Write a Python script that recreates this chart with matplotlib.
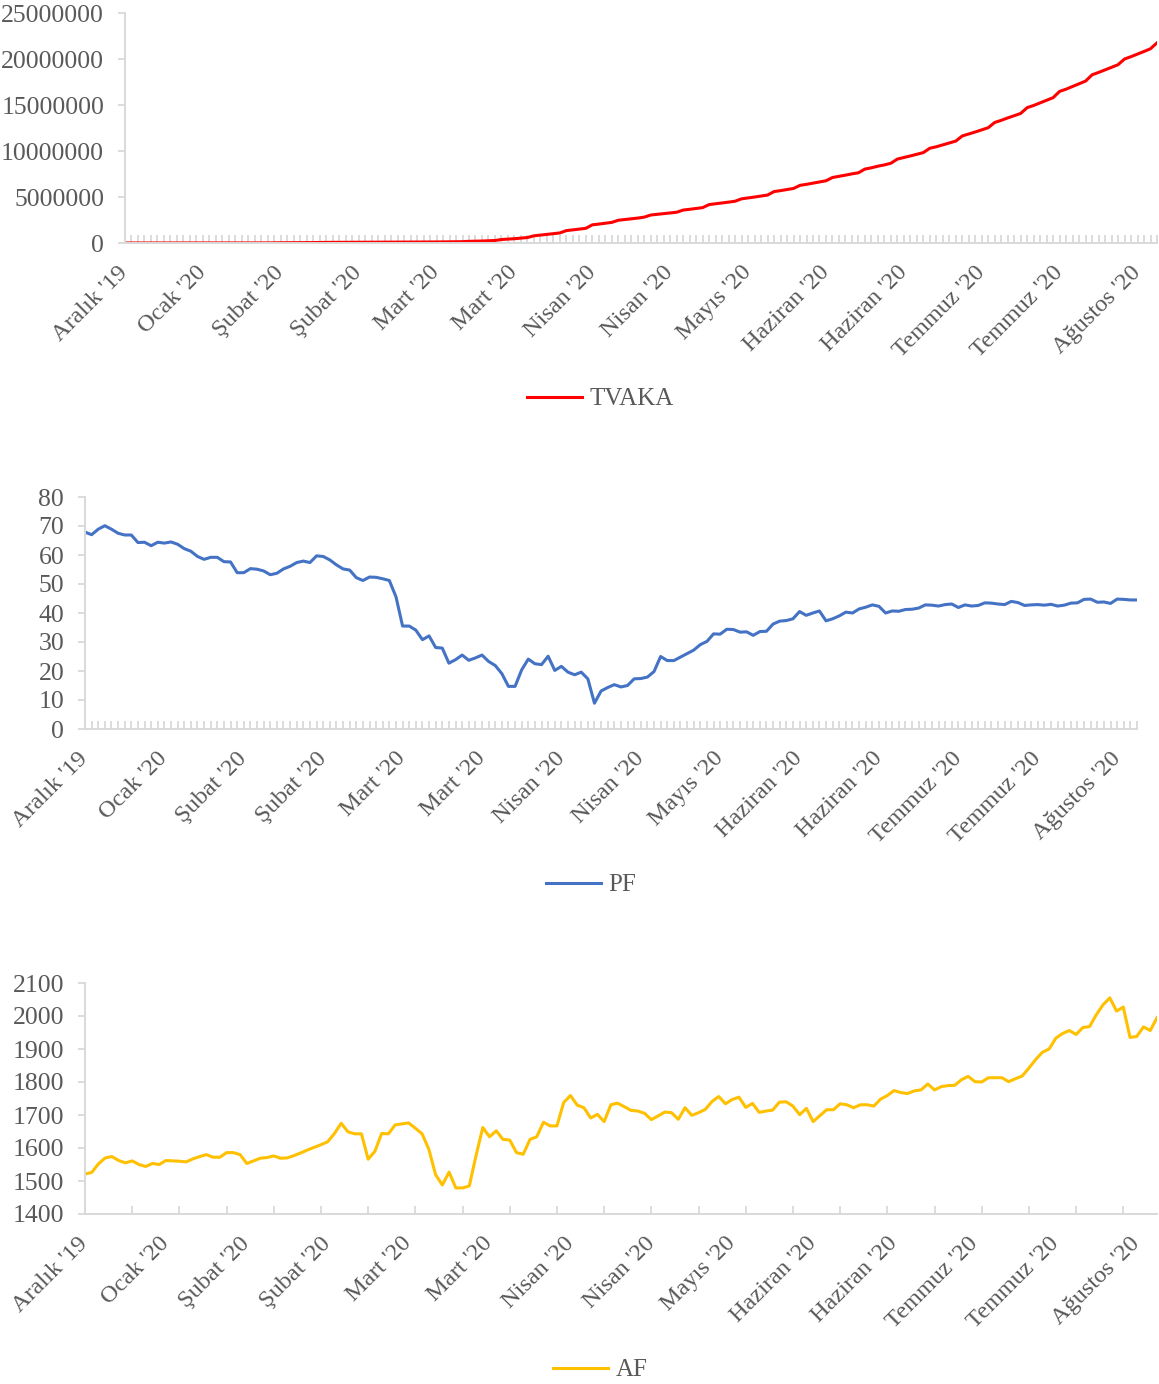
import numpy as np
import matplotlib.pyplot as plt
from matplotlib.lines import Line2D
from matplotlib.ticker import MultipleLocator, FuncFormatter

plt.rcParams['font.family'] = ['Liberation Serif', 'DejaVu Serif']

# Daily series (trading days, 31.12.2019 - 17.08.2020)
tvaka = [
    27, 44, 44, 59, 59, 59, 59, 41, 41, 41,
    41, 45, 62, 282, 314, 581, 846, 1320, 2927, 5578,
    6166, 8234, 9927, 20630, 24554, 28276, 31481, 34886, 43103, 45171,
    60381, 66886, 69032, 73332, 75204, 75748, 76769, 77794, 79331, 80239,
    81109, 82294, 83652, 89053, 90870, 93091, 95324, 98192, 113590, 118620,
    125875, 128343, 145193, 181546, 197168, 214915, 242713, 272167, 378287, 418041,
    467653, 529591, 593291, 782365, 857487, 932605, 1013157, 1095917, 1345101, 1426096,
    1511104, 1595350, 1976191, 2056054, 2152437, 2240190, 2472259, 2549294, 2623960, 2708885,
    2811193, 3041764, 3116398, 3193886, 3256853, 3343777, 3582469, 3662691, 3755341, 3845718,
    4177504, 4261747, 4347018, 4442163, 4542347, 4801943, 4897492, 4996472, 5102424, 5210817,
    5589626, 5691790, 5808946, 5930277, 6265852, 6378238, 6508635, 6632985, 6762855, 7118879,
    7242235, 7376264, 7514481, 7632802, 8034504, 8173940, 8349950, 8488977, 8668210, 9122357,
    9289773, 9465006, 9643749, 9825856, 10302867, 10460452, 10667386, 10875091, 11078585, 11635939,
    11850528, 12068280, 12294117, 12532129, 13104391, 13332100, 13596398, 13834420, 14088926, 14713623,
    14951259, 15229291, 15514012, 15797389, 16480485, 16724838, 17015474, 17304100, 17599410, 18282208,
    18540119, 18812606, 19095354, 19381340, 20001970, 20254440, 20536893, 20819829, 21115541, 21756357,
]

pf = [
    67.9, 67.0, 68.9, 70.1, 68.9, 67.5, 66.9, 66.9, 64.3, 64.4,
    63.2, 64.4, 64.1, 64.5, 63.7, 62.2, 61.3, 59.5, 58.5, 59.2,
    59.2, 57.7, 57.6, 53.9, 53.9, 55.3, 55.1, 54.5, 53.2, 53.7,
    55.2, 56.1, 57.4, 57.9, 57.4, 59.7, 59.5, 58.3, 56.6, 55.2,
    54.8, 52.2, 51.2, 52.4, 52.3, 51.8, 51.2, 45.6, 35.5, 35.5,
    34.1, 30.8, 32.1, 28.1, 27.9, 22.7, 23.9, 25.5, 23.7, 24.5,
    25.5, 23.3, 21.9, 19.1, 14.7, 14.7, 20.4, 24.1, 22.5, 22.2,
    25.1, 20.2, 21.6, 19.6, 18.7, 19.6, 17.3, 8.9, 13.1, 14.3,
    15.3, 14.5, 15.0, 17.3, 17.4, 17.9, 19.8, 25.0, 23.6, 23.6,
    24.8, 26.0, 27.2, 29.1, 30.2, 32.8, 32.7, 34.4, 34.3, 33.4,
    33.5, 32.3, 33.6, 33.7, 36.2, 37.2, 37.4, 38.0, 40.5, 39.2,
    40.0, 40.7, 37.3, 38.0, 39.0, 40.3, 40.0, 41.4, 42.0, 42.8,
    42.3, 40.0, 40.7, 40.6, 41.2, 41.3, 41.7, 42.8, 42.7, 42.4,
    42.9, 43.1, 41.9, 42.8, 42.4, 42.6, 43.5, 43.4, 43.1, 42.9,
    44.0, 43.6, 42.6, 42.8, 42.9, 42.7, 43.0, 42.4, 42.7, 43.4,
    43.5, 44.7, 44.8, 43.7, 43.8, 43.3, 44.8, 44.7, 44.5, 44.5,
]

af = [
    1521, 1526, 1552, 1570, 1574, 1562, 1555, 1561, 1550, 1544,
    1553, 1550, 1562, 1561, 1560, 1558, 1567, 1574, 1580, 1572,
    1572, 1586, 1586, 1580, 1553, 1561, 1569, 1571, 1576, 1569,
    1570, 1577, 1585, 1594, 1602, 1610, 1619, 1644, 1675, 1649,
    1643, 1643, 1566, 1590, 1644, 1643, 1670, 1673, 1676, 1660,
    1643, 1596, 1519, 1488, 1527, 1479, 1479, 1485, 1577, 1662,
    1634, 1652, 1626, 1624, 1586, 1581, 1626, 1634, 1678, 1667,
    1667, 1738, 1759, 1730, 1722, 1691, 1702, 1680, 1731, 1736,
    1725, 1714, 1712, 1705, 1686, 1697, 1709, 1707, 1687, 1722,
    1699, 1707, 1717, 1741, 1756, 1734, 1747, 1754, 1723, 1735,
    1708, 1712, 1715, 1739, 1740, 1727, 1701, 1720, 1680, 1698,
    1716, 1716, 1734, 1731, 1722, 1731, 1731, 1727, 1748, 1759,
    1774, 1768, 1765, 1773, 1776, 1794, 1776, 1786, 1789, 1790,
    1807, 1817, 1801, 1800, 1813, 1813, 1813, 1801, 1810, 1818,
    1842, 1868, 1890, 1900, 1933, 1947, 1956, 1944, 1965, 1968,
    2004, 2034, 2055, 2015, 2027, 1935, 1938, 1967, 1956, 1995,
]

month_labels = ["Aralık '19", "Ocak '20", "Şubat '20", "Şubat '20", "Mart '20",
                "Mart '20", "Nisan '20", "Nisan '20", "Mayıs '20", "Haziran '20",
                "Haziran '20", "Temmuz '20", "Temmuz '20", "Ağustos '20"]
label_step = 12

TEXT = '#595959'
AXIS = '#D9D9D9'
W, H = 1159, 1384

fig = plt.figure(figsize=(W / 100, H / 100), dpi=100)


def add_panel(left, right, top, bottom):
    return fig.add_axes([left / W, 1 - bottom / H, (right - left) / W, (bottom - top) / H])


panels = [
    dict(values=tvaka, name='TVAKA', color='#FF0000', box=(125, 1157, 13, 243),
         yticks=np.arange(0, 25000001, 5000000), legend=(600, 399), tick_step=1),
    dict(values=pf, name='PF', color='#4472C4', box=(85, 1137, 497, 729),
         yticks=np.arange(0, 81, 10), legend=(591, 885), tick_step=1),
    dict(values=af, name='AF', color='#FFC000', box=(85, 1157, 983, 1214),
         yticks=np.arange(1400, 2101, 100), legend=(600, 1370), tick_step=7),
]

for p in panels:
    ax = add_panel(*p['box'])
    y = np.asarray(p['values'])
    x = np.arange(len(y))
    ax.plot(x, y, color=p['color'], lw=2.2, solid_joinstyle='round')

    ax.set_xlim(0, len(y) - 1)
    ax.set_ylim(p['yticks'][0], p['yticks'][-1])
    ax.set_yticks(p['yticks'])
    ax.yaxis.set_major_formatter(FuncFormatter(lambda v, _: f'{v:.0f}'))

    for side in ('top', 'right'):
        ax.spines[side].set_visible(False)
    for side in ('left', 'bottom'):
        ax.spines[side].set_color(AXIS)
        ax.spines[side].set_linewidth(1.4)

    # month labels every 12 points, short marks every tick_step points
    ax.set_xticks(np.arange(0, len(y), label_step), labels=month_labels)
    ax.xaxis.set_minor_locator(MultipleLocator(p['tick_step']))
    ax.xaxis.remove_overlapping_locs = False
    ax.tick_params(axis='x', which='minor', direction='in', length=6, width=1.3, color=AXIS)
    ax.tick_params(axis='x', which='major', length=0, pad=19, labelsize=17.5, labelcolor=TEXT)
    for lab in ax.get_xticklabels():
        lab.set_rotation(45)
        lab.set_rotation_mode('anchor')
        lab.set_ha('right')
        lab.set_va('center')

    ax.tick_params(axis='y', direction='out', length=5, width=1.3, color=AXIS,
                   pad=10, labelsize=18.5, labelcolor=TEXT)

    lx, ly = p['legend']
    handle = Line2D([], [], color=p['color'], lw=2.2)
    fig.legend([handle], [p['name']], loc='center', bbox_to_anchor=(lx / W, 1 - ly / H),
               frameon=False, fontsize=18, labelcolor=TEXT, handlelength=2.2,
               handletextpad=0.3, borderpad=0)

fig.savefig('out.png', dpi=100, facecolor='white')
